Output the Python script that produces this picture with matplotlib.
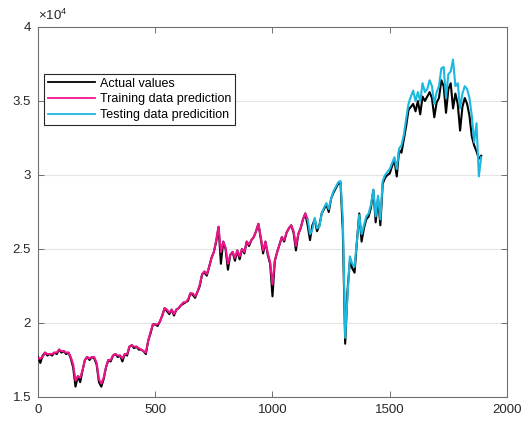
import numpy as np
import matplotlib
matplotlib.use("Agg")
import matplotlib.pyplot as plt
from matplotlib.ticker import FuncFormatter

plt.rcParams['font.family'] = ['Liberation Sans', 'DejaVu Sans']
plt.rcParams['mathtext.fontset'] = 'custom'
plt.rcParams['mathtext.rm'] = 'Liberation Sans'
plt.rcParams['mathtext.it'] = 'Liberation Sans:italic'

# Sample step (days) and values in units of 10^4
step = 10
scale = 1e4

actual_values = [
    1.77, 1.73, 1.78, 1.80, 1.78, 1.79, 1.78, 1.80, 1.79, 1.82,
    1.80, 1.81, 1.79, 1.80, 1.76, 1.70, 1.57, 1.64, 1.60, 1.68,
    1.75, 1.77, 1.75, 1.77, 1.76, 1.72, 1.60, 1.57, 1.62, 1.70,
    1.75, 1.74, 1.78, 1.79, 1.77, 1.78, 1.74, 1.79, 1.78, 1.84,
    1.85, 1.83, 1.84, 1.82, 1.82, 1.81, 1.79, 1.88, 1.93, 1.99,
    1.99, 1.98, 2.01, 2.05, 2.10, 2.08, 2.06, 2.09, 2.05, 2.09,
    2.10, 2.12, 2.13, 2.14, 2.15, 2.20, 2.19, 2.17, 2.21, 2.25,
    2.33, 2.34, 2.32, 2.38, 2.44, 2.48, 2.55, 2.65, 2.40, 2.55,
    2.50, 2.36, 2.46, 2.48, 2.42, 2.49, 2.43, 2.50, 2.47, 2.55,
    2.52, 2.56, 2.58, 2.62, 2.67, 2.57, 2.47, 2.55, 2.46, 2.40,
    2.18, 2.42, 2.48, 2.53, 2.58, 2.55, 2.61, 2.64, 2.66, 2.61,
    2.49, 2.60, 2.64, 2.70, 2.74, 2.66, 2.56, 2.66, 2.70, 2.62,
    2.66, 2.74, 2.77, 2.80, 2.75, 2.84, 2.88, 2.91, 2.94, 2.95,
    2.62, 1.86, 2.22, 2.42, 2.37, 2.34, 2.55, 2.74, 2.55, 2.64,
    2.70, 2.72, 2.78, 2.90, 2.68, 2.84, 2.66, 2.94, 2.98, 3.00,
    3.01, 3.06, 3.10, 2.99, 3.17, 3.15, 3.24, 3.33, 3.44, 3.46,
    3.48, 3.43, 3.50, 3.41, 3.53, 3.50, 3.53, 3.56, 3.52, 3.39,
    3.49, 3.52, 3.64, 3.60, 3.42, 3.58, 3.62, 3.45, 3.55, 3.48,
    3.30, 3.46, 3.52, 3.48, 3.40, 3.26, 3.20, 3.16, 3.11, 3.13,
]

train_start = 0
train_pred = [
    1.76, 1.76, 1.77, 1.80, 1.79, 1.79, 1.79, 1.80, 1.80, 1.82,
    1.81, 1.81, 1.80, 1.80, 1.77, 1.72, 1.61, 1.64, 1.63, 1.68,
    1.75, 1.77, 1.76, 1.77, 1.77, 1.73, 1.62, 1.59, 1.63, 1.70,
    1.75, 1.75, 1.78, 1.79, 1.78, 1.78, 1.76, 1.79, 1.79, 1.84,
    1.85, 1.84, 1.84, 1.83, 1.82, 1.81, 1.80, 1.88, 1.94, 1.99,
    1.99, 1.99, 2.01, 2.05, 2.10, 2.09, 2.07, 2.09, 2.06, 2.09,
    2.10, 2.12, 2.14, 2.14, 2.16, 2.20, 2.20, 2.18, 2.21, 2.26,
    2.33, 2.35, 2.33, 2.38, 2.44, 2.48, 2.56, 2.65, 2.48, 2.55,
    2.51, 2.40, 2.46, 2.48, 2.44, 2.49, 2.45, 2.50, 2.48, 2.55,
    2.53, 2.56, 2.58, 2.62, 2.67, 2.58, 2.49, 2.55, 2.47, 2.41,
    2.26, 2.42, 2.48, 2.53, 2.58, 2.56, 2.61, 2.64, 2.66, 2.62,
    2.52, 2.60, 2.64, 2.70, 2.74, 2.70,
]

test_start = 1150
test_pred = [
    2.70, 2.60, 2.63, 2.71, 2.64, 2.65, 2.74, 2.78, 2.81, 2.77,
    2.84, 2.89, 2.92, 2.95, 2.96, 2.70, 1.90, 2.18, 2.45, 2.40,
    2.38, 2.55, 2.73, 2.60, 2.66, 2.72, 2.74, 2.80, 2.90, 2.72,
    2.86, 2.70, 2.96, 3.00, 3.02, 3.04, 3.08, 3.12, 3.04, 3.18,
    3.20, 3.27, 3.38, 3.48, 3.53, 3.57, 3.50, 3.56, 3.50, 3.62,
    3.56, 3.58, 3.64, 3.60, 3.48, 3.56, 3.60, 3.72, 3.73, 3.52,
    3.68, 3.70, 3.78, 3.60, 3.62, 3.45, 3.55, 3.60, 3.58, 3.52,
    3.40, 3.22, 3.35, 2.99, 3.12,
]

labels = ["Actual values", "Training data prediction", "Testing data predicition"]
colors = ["#000000", "#f0148c", "#1bb8e0"]

x_ticks = [0, 500, 1000, 1500, 2000]
y_ticks = [1.5, 2, 2.5, 3, 3.5, 4]

x_act = np.arange(len(actual_values)) * step
x_tr = train_start + np.arange(len(train_pred)) * step
x_te = test_start + np.arange(len(test_pred)) * step

fig = plt.figure(figsize=(5.21, 4.25), dpi=100)
ax = fig.add_axes([0.0729, 0.0659, 0.9002, 0.8706])

ax.plot(x_act, np.array(actual_values) * scale, color=colors[0], lw=1.5, label=labels[0], zorder=3)
ax.plot(x_tr, np.array(train_pred) * scale, color=colors[1], lw=1.5, label=labels[1], zorder=4)
ax.plot(x_te, np.array(test_pred) * scale, color=colors[2], lw=1.5, label=labels[2], zorder=4)

ax.set_xlim(0, 2000)
ax.set_ylim(1.5 * scale, 4 * scale)
ax.set_xticks(x_ticks)
ax.set_yticks([v * scale for v in y_ticks])
ax.yaxis.set_major_formatter(FuncFormatter(lambda v, p: f"{v / scale:g}"))

spine_color = "#707070"
for s in ax.spines.values():
    s.set_color(spine_color)
    s.set_linewidth(0.8)
ax.tick_params(direction="in", length=4, width=0.7, color=spine_color,
               labelsize=9.5, labelcolor="#262626", top=True, right=True, pad=5)
ax.grid(axis="y", color="#e4e4e4", lw=0.8, zorder=0)
ax.set_axisbelow(True)

ax.text(0.0, 1.012, r"$\times\mathregular{10^{4}}$", transform=ax.transAxes,
        fontsize=9.5, color="#262626", ha="left", va="bottom")

leg = ax.legend(loc="upper left", bbox_to_anchor=(0.0128, 0.873), borderaxespad=0,
                fancybox=False, framealpha=1, edgecolor="#262626", fontsize=9,
                handlelength=3.8, handletextpad=0.4, borderpad=0.3, labelspacing=0.3)
leg.get_frame().set_linewidth(0.8)
for h in leg.get_lines():
    h.set_linewidth(1.3)

fig.savefig("out.png", dpi=100)
